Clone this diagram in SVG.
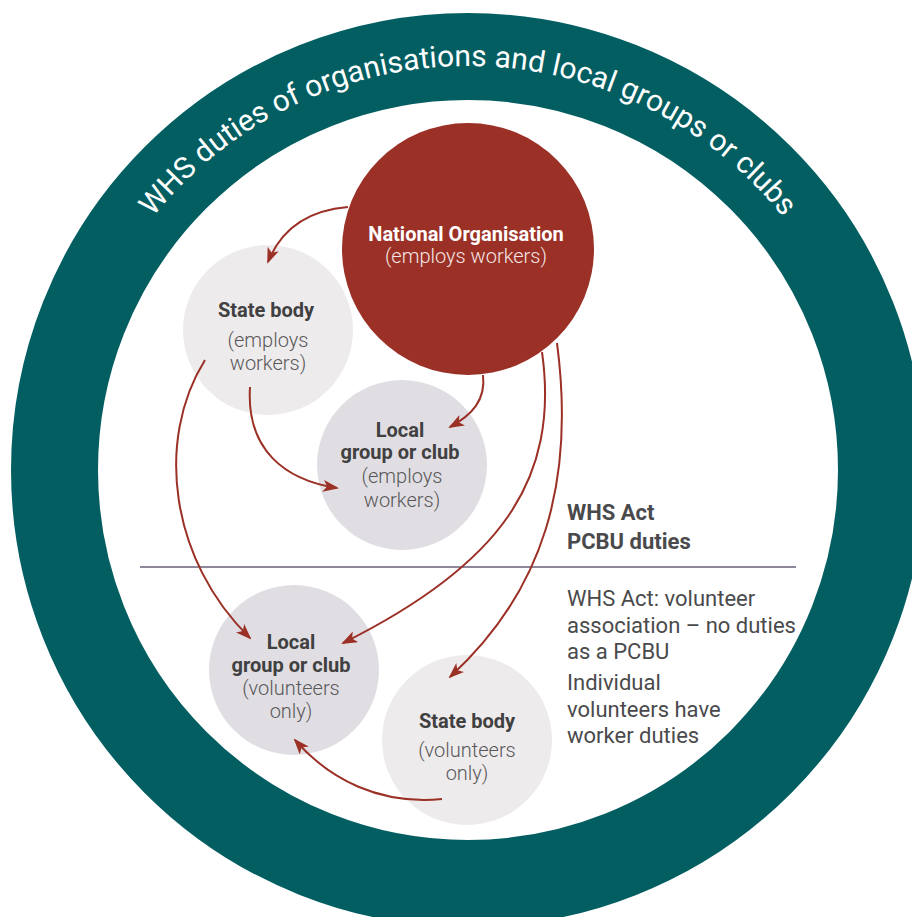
<svg xmlns="http://www.w3.org/2000/svg" width="912" height="917" viewBox="0 0 912 917">
<defs>
<style>
.ring{fill:none;stroke:#035E62;stroke-width:87}
.title{font-family:Roboto,"Liberation Sans",sans-serif;font-size:30px;fill:#ffffff}
.t{font-family:Roboto,"Liberation Sans",sans-serif;font-size:20px;font-weight:700;fill:#404041;text-anchor:middle}
.p{font-family:Roboto,"Liberation Sans",sans-serif;font-size:20px;font-weight:300;fill:#58585a;text-anchor:middle}
.tw{fill:#ffffff}
.pw{fill:#f3e6e4}
.side{font-family:Roboto,"Liberation Sans",sans-serif;font-size:22px;fill:#4a4a4c}
.sideb{font-weight:700}
.light{fill:#EEEBEC}
.grey{fill:#E0DEE2}
.conn{fill:none;stroke:#9B3026;stroke-width:2}
</style>
<marker id="ah" viewBox="0 0 16 12" refX="14" refY="6" markerWidth="16" markerHeight="12" markerUnits="userSpaceOnUse" orient="auto">
<path d="M0,0 L16,6 L0,12 L4,6 z" fill="#9B3026"/>
</marker>
<path id="arc" d="M64,470 A404,404 0 0 1 872,470"/>
</defs>
<rect width="912" height="917" fill="#ffffff"/>
<g id="ring">
<circle class="ring" cx="468" cy="470" r="413.5"/>
<text class="title"><textPath href="#arc" startOffset="50%" text-anchor="middle">WHS duties of organisations and local groups or clubs</textPath></text>
</g>
<g id="divider">
<line x1="140" y1="567" x2="796" y2="567" stroke="#8E879A" stroke-width="2"/>
</g>
<g id="national">
<circle cx="468" cy="249" r="126" fill="#9B3026"/>
<text class="t tw" x="466" y="241">National Organisation</text>
<text class="p pw" x="466" y="263">(employs workers)</text>
</g>
<g id="state-employs">
<circle class="light" cx="268" cy="330" r="85"/>
<text class="t" x="266" y="317">State body</text>
<text class="p" x="268" y="347">(employs</text>
<text class="p" x="268" y="370">workers)</text>
</g>
<g id="local-employs">
<circle class="grey" cx="402" cy="465" r="85"/>
<text class="t" x="400" y="437">Local</text>
<text class="t" x="400" y="459">group or club</text>
<text class="p" x="402" y="483">(employs</text>
<text class="p" x="402" y="507">workers)</text>
</g>
<g id="local-volunteers">
<circle class="grey" cx="294" cy="670" r="85"/>
<text class="t" x="291" y="649">Local</text>
<text class="t" x="291" y="672">group or club</text>
<text class="p" x="291" y="695">(volunteers</text>
<text class="p" x="291" y="718">only)</text>
</g>
<g id="state-volunteers">
<circle class="light" cx="467" cy="740" r="85"/>
<text class="t" x="467" y="728">State body</text>
<text class="p" x="467" y="757">(volunteers</text>
<text class="p" x="467" y="780">only)</text>
</g>
<g id="labels">
<text class="side sideb" x="567" y="520">WHS Act</text>
<text class="side sideb" x="567" y="549">PCBU duties</text>
<text class="side" x="567" y="606">WHS Act: volunteer</text>
<text class="side" x="567" y="633">association – no duties</text>
<text class="side" x="567" y="659">as a PCBU</text>
<text class="side" x="567" y="690">Individual</text>
<text class="side" x="567" y="717">volunteers have</text>
<text class="side" x="567" y="743">worker duties</text>
</g>
<g id="connectors">
<path class="conn" marker-end="url(#ah)" d="M348,207 Q288,212 268,262"/>
<path class="conn" marker-end="url(#ah)" d="M483,375 C486,400 472,415 450,427"/>
<path class="conn" marker-end="url(#ah)" d="M250,387 C246,450 285,480 337,488"/>
<path class="conn" marker-end="url(#ah)" d="M205,360 C155,440 170,560 250,638"/>
<path class="conn" marker-end="url(#ah)" d="M542,352 C560,480 500,565 343,643"/>
<path class="conn" marker-end="url(#ah)" d="M557,343 C575,480 545,590 450,677"/>
<path class="conn" marker-end="url(#ah)" d="M442,799 C380,805 330,780 295,740"/>
</g>
</svg>
